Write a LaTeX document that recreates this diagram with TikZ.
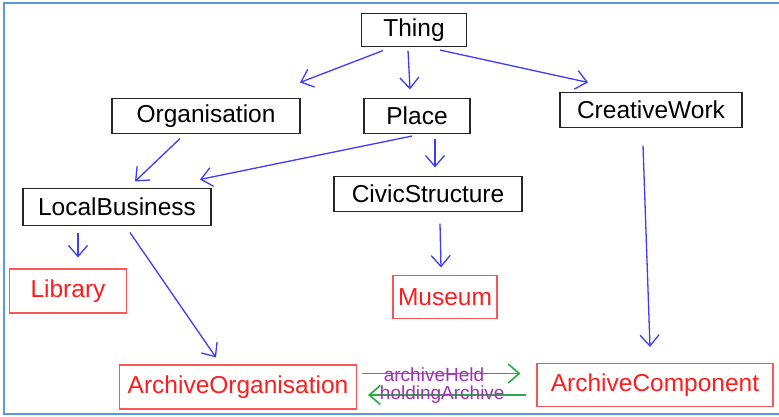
\documentclass[tikz,border=0pt]{standalone}
\usepackage{fontspec}
\setmainfont{Liberation Sans}
\usetikzlibrary{arrows.meta}

\definecolor{azul}{RGB}{60,60,250}
\definecolor{rojo}{RGB}{250,30,30}
\definecolor{verde}{RGB}{40,170,70}
\definecolor{morado}{RGB}{160,50,180}
\definecolor{marco}{RGB}{90,155,215}

\tikzset{
  caja/.style={draw=black!85, line width=1.1pt, inner sep=0pt, font=\fontsize{24.5}{26}\selectfont},
  cajaroja/.style={caja, draw=rojo!75, text=rojo},
  flecha/.style={draw=azul, line width=1.3pt, -{Straight Barb[length=11pt,width=19pt]}},
  flechaverde/.style={flecha, draw=verde, line width=1.6pt},
  etiqueta/.style={text=morado, font=\fontsize{19}{21}\selectfont, inner sep=0pt},
}

\begin{document}
\begin{tikzpicture}[x=1pt,y=-1pt]
  \useasboundingbox (0,0) rectangle (779,417);

  % Marco
  \draw[marco, line width=2pt] (779,3.5) -- (4,3.5) -- (4,414) -- (779,414);

  % Clases
  \node[caja, minimum width=105, minimum height=33] (thing) at (414,30) {Thing};
  \node[caja, minimum width=188, minimum height=35] (org) at (206,116) {Organisation};
  \node[caja, minimum width=106, minimum height=35] (place) at (417,116) {Place};
  \node[caja, minimum width=182, minimum height=35] (cw) at (651,110) {CreativeWork};
  \node[caja, minimum width=188, minimum height=37] (lb) at (117,207) {LocalBusiness};
  \node[caja, minimum width=188, minimum height=35] (civic) at (428,194) {CivicStructure};

  % Clases nuevas
  \node[cajaroja, minimum width=117, minimum height=44] (library) at (68,291) {Library};
  \node[cajaroja, minimum width=104, minimum height=43] (museum) at (445,297) {Museum};
  \node[cajaroja, minimum width=237, minimum height=44] (ao) at (238,387) {ArchiveOrganisation};
  \node[cajaroja, minimum width=236, minimum height=43] (ac) at (655,385) {ArchiveComponent};

  % Herencia
  \draw[flecha] ([shift={(-31,3.5)}]thing.south) -- ([shift={(94,-15.5)}]org.north);
  \draw[flecha] ([shift={(-6,3.5)}]thing.south) -- ([shift={(-7,-8.5)}]place.north);
  \draw[flecha] ([shift={(26,3)}]thing.south) -- ([shift={(-63,-9.5)}]cw.north);
  \draw[flecha] ([shift={(-26,4.5)}]org.south) -- ([shift={(18,-6.5)}]lb.north);
  \draw[flecha] ([shift={(-5,2)}]place.south) -- ([shift={(83,-8.5)}]lb.north);
  \draw[flecha] ([shift={(18,4.5)}]place.south) -- ([shift={(7,-8.5)}]civic.north);
  \draw[flecha] ([shift={(-39,6.5)}]lb.south) -- ([shift={(10,-11)}]library.north);
  \draw[flecha] ([shift={(13,6.5)}]lb.south) -- ([shift={(-22,-7)}]ao.north);
  \draw[flecha] ([shift={(12,11.5)}]civic.south) -- ([shift={(-4,-7.5)}]museum.north);
  \draw[flecha] ([shift={(-8,17.5)}]cw.south) -- ([shift={(-5,-16)}]ac.north);

  % Propiedades
  \draw[flechaverde] ([shift={(4.5,-13.5)}]ao.east) -- node[etiqueta, xshift=-7, yshift=-1.5] {archiveHeld} ([shift={(-16,-11.5)}]ac.west);
  \draw[flechaverde] ([shift={(-10,10)}]ac.west) -- node[etiqueta, xshift=-5, yshift=0.5] {holdingArchive} ([shift={(11,8)}]ao.east);
\end{tikzpicture}
\end{document}
